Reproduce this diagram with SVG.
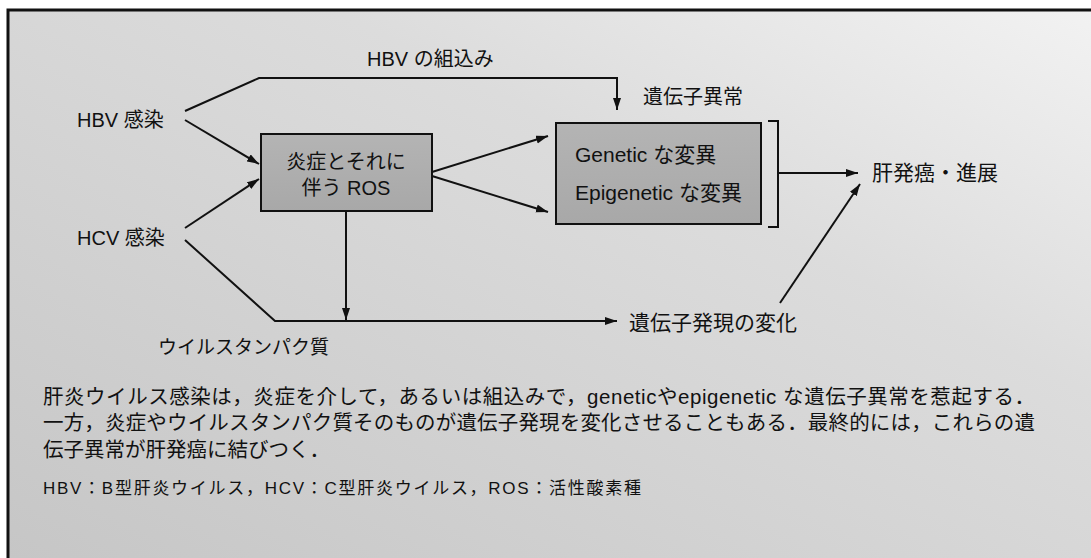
<svg xmlns="http://www.w3.org/2000/svg" width="1091" height="558" viewBox="0 0 1091 558">
  <style>
    .t { font-family: "Liberation Sans", "Noto Sans CJK JP", sans-serif; fill: #111; }
    .ln { fill: none; stroke: #111; stroke-width: 2; }
    .box { fill: url(#boxfill); stroke: #111; stroke-width: 2; }
  </style>
  <defs>
    <linearGradient id="bg" x1="1" y1="0" x2="0" y2="1">
      <stop offset="0" stop-color="#f2f2f2"/>
      <stop offset="0.35" stop-color="#dcdcdc"/>
      <stop offset="1" stop-color="#c6c6c6"/>
    </linearGradient>
    <linearGradient id="boxfill" x1="0" y1="0" x2="0" y2="1">
      <stop offset="0" stop-color="#b4b4b4"/>
      <stop offset="1" stop-color="#a8a8a8"/>
    </linearGradient>
    <marker id="arr" markerUnits="userSpaceOnUse" markerWidth="13" markerHeight="9" refX="12" refY="4" orient="auto">
      <path d="M0,0 L12,4 L0,8 z" fill="#111"/>
    </marker>
  </defs>

  <rect x="0" y="0" width="1091" height="558" fill="#ffffff"/>
  <rect x="8" y="10" width="1083" height="548" fill="url(#bg)"/>
  <g id="frame">
    <path d="M8,558 V10 H1091" fill="none" stroke="#111" stroke-width="3"/>
  </g>

  <g id="connectors">
    <polyline class="ln" points="185,111 259,78 617,78 617,110" marker-end="url(#arr)"/>
    <line class="ln" x1="185" y1="120" x2="259" y2="164" marker-end="url(#arr)"/>
    <line class="ln" x1="185" y1="228" x2="259" y2="179" marker-end="url(#arr)"/>
    <polyline class="ln" points="185,240 275,321 617,321" marker-end="url(#arr)"/>
    <line class="ln" x1="346" y1="211" x2="346" y2="320" marker-end="url(#arr)"/>
    <line class="ln" x1="432" y1="172" x2="548" y2="136" marker-end="url(#arr)"/>
    <line class="ln" x1="432" y1="176" x2="548" y2="212" marker-end="url(#arr)"/>
    <path class="ln" d="M768,121 H778 V227 H768"/>
    <line class="ln" x1="778" y1="173" x2="858" y2="173" marker-end="url(#arr)"/>
    <line class="ln" x1="780" y1="303" x2="860" y2="184" marker-end="url(#arr)"/>
  </g>

  <g id="hbv">
    <text class="t" x="77" y="127" font-size="20">HBV 感染</text>
  </g>
  <g id="hcv">
    <text class="t" x="77" y="245" font-size="20">HCV 感染</text>
  </g>
  <g id="hbv-integration">
    <text class="t" x="367" y="66" font-size="20">HBV の組込み</text>
  </g>
  <g id="gene-abnormality-label">
    <text class="t" x="643" y="104" font-size="20">遺伝子異常</text>
  </g>
  <g id="inflammation">
    <rect class="box" x="261" y="134" width="171" height="77"/>
    <text class="t" x="346" y="169" font-size="20" text-anchor="middle">炎症とそれに</text>
    <text class="t" x="346" y="195" font-size="20" text-anchor="middle">伴う ROS</text>
  </g>
  <g id="mutations">
    <rect class="box" x="556" y="123" width="205" height="101"/>
    <text class="t" x="575" y="162" font-size="21">Genetic な変異</text>
    <text class="t" x="575" y="200" font-size="21">Epigenetic な変異</text>
  </g>
  <g id="hcc">
    <text class="t" x="872" y="180" font-size="21">肝発癌・進展</text>
  </g>
  <g id="expression">
    <text class="t" x="629" y="330" font-size="21">遺伝子発現の変化</text>
  </g>
  <g id="viral-protein">
    <text class="t" x="158" y="354" font-size="19">ウイルスタンパク質</text>
  </g>

  <g id="caption">
    <text class="t" x="43" y="404" font-size="20.5" textLength="992" lengthAdjust="spacing">肝炎ウイルス感染は，炎症を介して，あるいは組込みで，geneticやepigenetic な遺伝子異常を惹起する．</text>
    <text class="t" x="43" y="430" font-size="20.5" textLength="992" lengthAdjust="spacing">一方，炎症やウイルスタンパク質そのものが遺伝子発現を変化させることもある．最終的には，これらの遺</text>
    <text class="t" x="43" y="457" font-size="20.5">伝子異常が肝発癌に結びつく．</text>
    <text class="t" x="43" y="494" font-size="17" textLength="598" lengthAdjust="spacing">HBV：B型肝炎ウイルス，HCV：C型肝炎ウイルス，ROS：活性酸素種</text>
  </g>
</svg>
